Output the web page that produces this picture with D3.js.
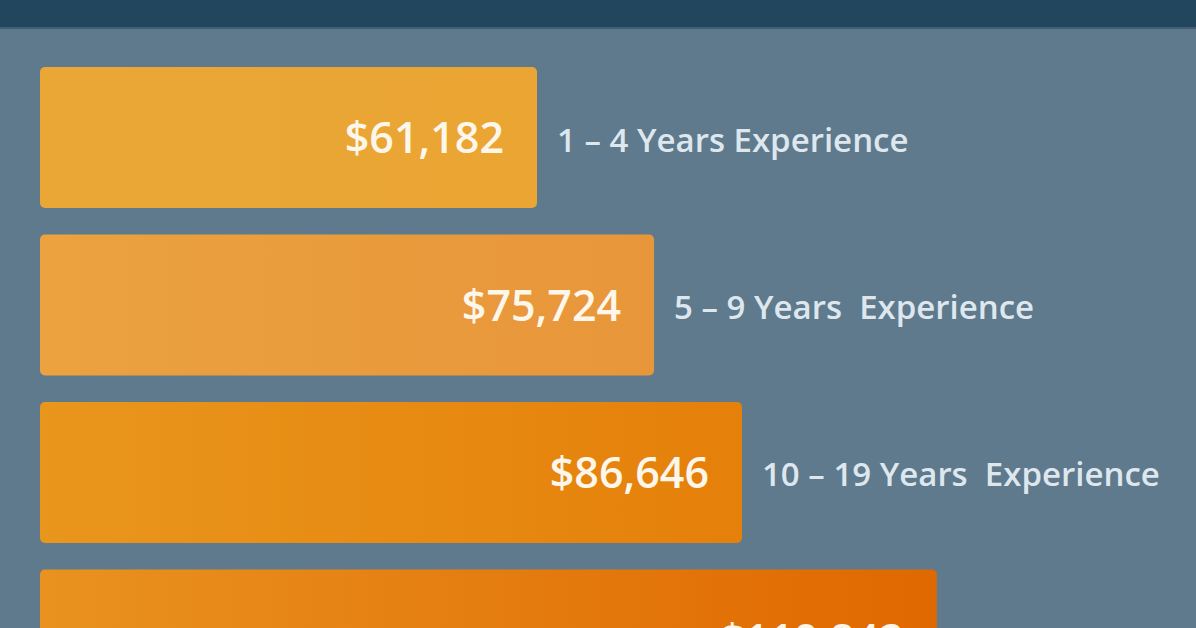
<!DOCTYPE html>
<html><head><meta charset="utf-8">
<script src="https://cdn.jsdelivr.net/npm/d3@7"></script>
<style>html,body{margin:0;padding:0;background:#5e7a8c;overflow:hidden}</style>
</head><body>
<svg id="c" width="1196" height="628"></svg>
<script>
const categories = ["1 – 4 Years Experience", "5 – 9 Years  Experience", "10 – 19 Years  Experience", "20+ Years Experience"];
const values = [61182, 75724, 86646, 110842];
const valueLabels = ["$61,182", "$75,724", "$86,646", "$110,842"];
const gradLeft = ["#eaa735", "#eba23f", "#e9961c", "#e9921f"];
const gradRight = ["#eaa533", "#e8963a", "#e5800a", "#e06800"];

const svg = d3.select("#c");
const W = 1196, H = 628;
const left = 40;
svg.append("rect").attr("width", W).attr("height", H).attr("fill", "#5e7a8c");
svg.append("rect").attr("width", W).attr("height", 27).attr("fill", "#22465e");
svg.append("rect").attr("y", 27).attr("width", W).attr("height", 2).attr("fill", "#3e5f74");

const defs = svg.append("defs");
categories.forEach((c, i) => {
  const g = defs.append("linearGradient").attr("id", "g" + i).attr("x1", "0").attr("x2", "1").attr("y1", "0").attr("y2", "0");
  g.append("stop").attr("offset", "0").attr("stop-color", gradLeft[i]);
  g.append("stop").attr("offset", "1").attr("stop-color", gradRight[i]);
});

const x = d3.scaleLinear().domain([61182, 86646]).range([537, 742]);
const y = d3.scaleBand().domain(categories).range([67, 710.5]).paddingInner(0.158).paddingOuter(0);

const gs = svg.selectAll("g.bar").data(categories).join("g").attr("class", "bar");
gs.append("rect")
  .attr("x", left).attr("y", d => y(d))
  .attr("width", (d, i) => x(values[i]) - left)
  .attr("height", y.bandwidth())
  .attr("rx", 5)
  .attr("fill", (d, i) => `url(#g${i})`);
gs.append("text")
  .attr("x", (d, i) => x(values[i]) - 33)
  .attr("y", d => y(d) + y.bandwidth() / 2 + 15.5)
  .attr("text-anchor", "end")
  .attr("font-family", "Open Sans")
  .attr("font-weight", 600)
  .attr("font-size", 43)
  .attr("fill", "#fdf6ea")
  .text((d, i) => valueLabels[i]);
gs.append("text")
  .attr("x", (d, i) => x(values[i]) + 20)
  .attr("y", d => y(d) + y.bandwidth() / 2 + 14)
  .attr("font-family", "Open Sans")
  .attr("font-weight", 600)
  .attr("font-size", 33)
  .attr("fill", "#dfe7ee")
  .style("white-space", "pre")
  .attr("xml:space", "preserve")
  .text(d => d);
</script>
</body></html>
